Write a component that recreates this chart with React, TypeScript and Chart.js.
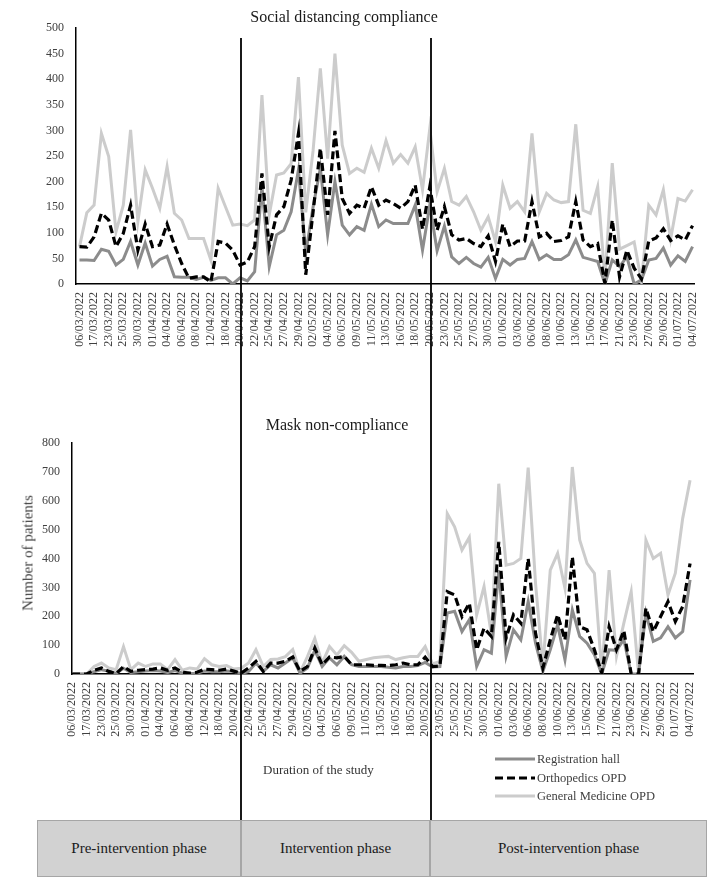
import { useEffect, useRef } from "react";
import { Chart, registerables } from "chart.js";

Chart.register(...registerables);

const dates = [
  "06/03/2022","16/03/2022","17/03/2022","22/03/2022","23/03/2022","24/03/2022","25/03/2022","28/03/2022","30/03/2022","31/03/2022",
  "01/04/2022","02/04/2022","04/04/2022","05/04/2022","06/04/2022","07/04/2022","08/04/2022","11/04/2022","12/04/2022","13/04/2022",
  "18/04/2022","19/04/2022","20/04/2022","21/04/2022","22/04/2022","23/04/2022","25/04/2022","26/04/2022","27/04/2022","28/04/2022",
  "29/04/2022","30/04/2022","02/05/2022","03/05/2022","04/05/2022","05/05/2022","06/05/2022","07/05/2022","09/05/2022","10/05/2022",
  "11/05/2022","12/05/2022","13/05/2022","14/05/2022","16/05/2022","17/05/2022","18/05/2022","19/05/2022","20/05/2022","21/05/2022",
  "23/05/2022","24/05/2022","25/05/2022","26/05/2022","27/05/2022","28/05/2022","30/05/2022","31/05/2022","01/06/2022","02/06/2022",
  "03/06/2022","04/06/2022","06/06/2022","07/06/2022","08/06/2022","09/06/2022","10/06/2022","11/06/2022","13/06/2022","14/06/2022",
  "15/06/2022","16/06/2022","17/06/2022","18/06/2022","21/06/2022","22/06/2022","23/06/2022","24/06/2022","27/06/2022","28/06/2022",
  "29/06/2022","30/06/2022","01/07/2022","02/07/2022","04/07/2022",
];

const phaseBoundaries = ["20/04/2022", "20/05/2022"];

// Social distancing compliance
const regSocial = [
  47,47,46,68,64,37,48,83,37,80,
  35,48,54,14,13,13,9,13,7,12,
  12,0,12,6,24,190,34,96,105,141,
  223,60,150,226,96,200,115,96,112,105,
  156,112,125,118,118,118,154,66,154,65,
  113,53,40,52,40,33,52,11,48,37,
  48,50,83,48,57,48,48,57,86,52,
  48,44,0,47,34,53,0,8,47,50,
  70,37,55,44,73,
];
const orthoSocial = [
  73,72,92,138,125,73,99,154,66,117,
  73,76,117,76,40,11,14,14,4,83,
  80,66,37,43,73,216,73,135,151,203,
  294,18,140,265,135,299,167,138,154,148,
  190,154,164,157,148,161,193,107,190,105,
  151,96,86,89,79,73,94,44,117,73,
  84,84,161,92,99,83,85,92,161,86,
  73,79,1,125,14,66,31,10,84,90,
  108,85,94,86,114,
];
const genSocial = [
  73,139,154,294,249,102,154,301,122,223,
  187,148,229,138,125,89,89,89,47,187,
  151,115,117,114,125,369,135,213,217,235,
  404,140,260,421,245,450,271,216,226,218,
  265,226,280,236,253,236,268,184,304,180,
  226,161,154,171,141,105,131,83,193,148,
  161,141,294,141,177,164,159,161,312,144,
  138,190,10,236,68,75,82,5,154,135,
  184,88,167,162,184,
];

// Mask non-compliance
const regMask = [
  0,0,0,8,15,10,2,20,5,8,
  10,12,10,5,12,3,2,3,10,8,
  8,10,9,1,9,38,9,32,21,38,
  56,3,21,82,26,56,32,61,32,26,
  26,26,26,23,21,26,26,29,40,24,
  26,211,217,147,188,26,84,72,360,61,
  153,118,251,107,9,84,170,49,222,130,
  107,67,0,84,82,120,0,0,211,113,
  125,164,125,147,326,
];
const orthoMask = [
  0,0,0,13,21,9,1,26,9,13,
  15,17,21,13,21,6,3,6,17,15,
  13,17,10,3,21,44,9,38,38,44,
  59,9,26,90,32,59,56,61,32,32,
  32,30,30,29,32,38,32,32,58,26,
  28,285,274,199,245,84,159,130,458,125,
  205,176,400,141,21,118,205,118,406,164,
  153,84,3,164,84,150,0,0,228,147,
  199,251,182,234,383,
];
const genMask = [
  0,0,0,26,38,21,15,95,15,38,
  26,35,35,15,50,13,21,17,53,32,
  26,29,17,20,38,84,26,50,52,60,
  85,6,60,123,38,95,66,98,75,44,
  50,56,59,61,50,56,61,61,95,35,
  44,556,510,429,473,205,303,136,659,377,
  383,400,715,314,26,360,418,297,717,464,
  383,349,5,360,61,176,285,0,464,400,
  418,274,349,539,671,
];

const seriesNames = ["Registration hall", "Orthopedics OPD", "General Medicine OPD"];
const phaseNames = ["Pre-intervention phase", "Intervention phase", "Post-intervention phase"];

const SERIF = '"Liberation Serif", "Times New Roman", serif';
const TICK_COLOR = "#404040";
const MID_GRAY = "#8c8c8c";
const LIGHT_GRAY = "#cccccc";

type Cfg = {
  reg: number[];
  ortho: number[];
  gen: number[];
  yMax: number;
  yStep: number;
  xMin: number;
  xMax: number;
  yWidth: number;
  xHeight: number;
  padTop: number;
  padRight: number;
  lineY0: number;
  lineY1: number;
  getLineXs: (chart: any) => number[];
};

function buildConfig(c: Cfg): any {
  const toXY = (arr: number[]) => arr.map((v, i) => ({ x: i, y: v }));
  const tickIdx = dates.map((_, i) => i).filter((i) => i % 2 === 0);
  return {
    type: "line",
    data: {
      datasets: [
        {
          label: seriesNames[1],
          data: toXY(c.ortho),
          borderColor: "#000000",
          borderWidth: 3.2,
          borderDash: [8, 4],
          order: 0,
        },
        {
          label: seriesNames[0],
          data: toXY(c.reg),
          borderColor: MID_GRAY,
          borderWidth: 3,
          order: 1,
        },
        {
          label: seriesNames[2],
          data: toXY(c.gen),
          borderColor: LIGHT_GRAY,
          borderWidth: 3,
          order: 2,
        },
      ],
    },
    options: {
      animation: false,
      responsive: false,
      maintainAspectRatio: false,
      layout: { padding: { top: c.padTop, right: c.padRight, left: 0, bottom: 0 } },
      elements: { point: { radius: 0 }, line: { tension: 0, borderCapStyle: "butt", borderJoinStyle: "miter" } },
      plugins: { legend: { display: false }, tooltip: { enabled: false }, title: { display: false } },
      scales: {
        x: {
          type: "linear",
          min: c.xMin,
          max: c.xMax,
          grid: { display: false, drawTicks: false },
          border: { display: true, color: "#000000", width: 1.5 },
          afterBuildTicks: (s: any) => {
            s.ticks = tickIdx.map((i) => ({ value: i }));
          },
          afterFit: (s: any) => {
            s.height = c.xHeight;
          },
          ticks: {
            autoSkip: false,
            minRotation: 90,
            maxRotation: 90,
            padding: 8,
            color: TICK_COLOR,
            font: { family: SERIF, size: 12 },
            callback: (v: any) => dates[Math.round(Number(v))] ?? "",
          },
        },
        y: {
          min: 0,
          max: c.yMax,
          grid: { display: false, drawTicks: false },
          border: { display: true, color: "#000000", width: 1.5 },
          afterFit: (s: any) => {
            s.width = c.yWidth;
          },
          ticks: {
            stepSize: c.yStep,
            padding: 12,
            color: TICK_COLOR,
            font: { family: SERIF, size: 12 },
          },
        },
      },
    },
    plugins: [
      {
        id: "phaseLines",
        afterDraw(chart: any) {
          const ctx = chart.ctx;
          ctx.save();
          ctx.strokeStyle = "#000000";
          ctx.lineWidth = 1.8;
          for (const x of c.getLineXs(chart)) {
            ctx.beginPath();
            ctx.moveTo(x, c.lineY0);
            ctx.lineTo(x, c.lineY1);
            ctx.stroke();
          }
          ctx.restore();
        },
      },
    ],
  };
}

const TOP_H = 390;
const BOTTOM_H = 882 - TOP_H;

export default function App() {
  const topRef = useRef<HTMLCanvasElement | null>(null);
  const botRef = useRef<HTMLCanvasElement | null>(null);

  useEffect(() => {
    const phaseIdx = phaseBoundaries.map((d) => dates.indexOf(d));
    let topChart: any = null;
    const lineXsFromTop = () =>
      topChart ? phaseIdx.map((i) => Math.round(topChart.scales.x.getPixelForValue(i)) + 1) : [];

    topChart = new Chart(
      topRef.current as HTMLCanvasElement,
      buildConfig({
        reg: regSocial,
        ortho: orthoSocial,
        gen: genSocial,
        yMax: 500,
        yStep: 50,
        xMin: -0.48,
        xMax: 84.2,
        yWidth: 76,
        xHeight: TOP_H - 284,
        padTop: 28,
        padRight: 23,
        lineY0: 38,
        lineY1: TOP_H,
        getLineXs: (chart: any) => phaseIdx.map((i) => Math.round(chart.scales.x.getPixelForValue(i)) + 1),
      })
    );
    topChart.update();

    const botChart = new Chart(
      botRef.current as HTMLCanvasElement,
      buildConfig({
        reg: regMask,
        ortho: orthoMask,
        gen: genMask,
        yMax: 800,
        yStep: 100,
        xMin: 0,
        xMax: 84.4,
        yWidth: 72,
        xHeight: BOTTOM_H - (674 - TOP_H),
        padTop: 443 - TOP_H,
        padRight: 24,
        lineY0: 0,
        lineY1: 820 - TOP_H,
        getLineXs: () => lineXsFromTop(),
      })
    );

    return () => {
      botChart.destroy();
      topChart.destroy();
    };
  }, []);

  const text: React.CSSProperties = {
    position: "absolute",
    fontFamily: SERIF,
    whiteSpace: "nowrap",
    color: "#1a1a1a",
  };

  const boxes = [
    { left: 37, right: 241 },
    { left: 241, right: 430 },
    { left: 430, right: 707 },
  ];

  return (
    <div style={{ position: "absolute", left: 0, top: 0, width: 717, height: 882, background: "#ffffff", overflow: "hidden" }}>
      <canvas
        ref={topRef}
        width={717}
        height={TOP_H}
        style={{ position: "absolute", left: 0, top: 0, width: 717, height: TOP_H, display: "block" }}
      />
      <canvas
        ref={botRef}
        width={717}
        height={BOTTOM_H}
        style={{ position: "absolute", left: 0, top: TOP_H, width: 717, height: BOTTOM_H, display: "block" }}
      />

      <div style={{ ...text, left: 344, top: 17, fontSize: 16, transform: "translate(-50%, -50%)" }}>
        Social distancing compliance
      </div>
      <div style={{ ...text, left: 337, top: 425, fontSize: 16, transform: "translate(-50%, -50%)" }}>
        Mask non-compliance
      </div>
      <div
        style={{
          ...text,
          left: 28,
          top: 553,
          fontSize: 15,
          color: "#404040",
          transform: "translate(-50%, -50%) rotate(-90deg)",
        }}
      >
        Number of patients
      </div>
      <div style={{ ...text, left: 263, top: 770, fontSize: 13, color: "#333", transform: "translateY(-50%)" }}>
        Duration of the study
      </div>

      {seriesNames.map((name, k) => {
        const y = [759, 778, 796][k];
        return (
          <div key={name} style={{ position: "absolute", left: 495, top: y - 8, height: 16, width: 200 }}>
            <svg width={42} height={16} style={{ position: "absolute", left: 0, top: 0 }}>
              <line
                x1={0}
                y1={8}
                x2={40}
                y2={8}
                stroke={k === 0 ? MID_GRAY : k === 1 ? "#000000" : LIGHT_GRAY}
                strokeWidth={k === 1 ? 3.2 : 3}
                strokeDasharray={k === 1 ? "8 4" : undefined}
              />
            </svg>
            <div style={{ ...text, left: 42, top: 8, fontSize: 12.5, color: "#404040", transform: "translateY(-50%)" }}>
              {name}
            </div>
          </div>
        );
      })}

      {boxes.map((b, k) => (
        <div
          key={k}
          style={{
            position: "absolute",
            left: b.left,
            top: 820,
            width: b.right - b.left,
            height: 57,
            boxSizing: "border-box",
            background: "#d2d2d2",
            border: "1.5px solid #a6a6a6",
            display: "flex",
            alignItems: "center",
            justifyContent: "center",
            fontFamily: SERIF,
            fontSize: 15,
            color: "#1a1a1a",
          }}
        >
          {phaseNames[k]}
        </div>
      ))}
    </div>
  );
}
